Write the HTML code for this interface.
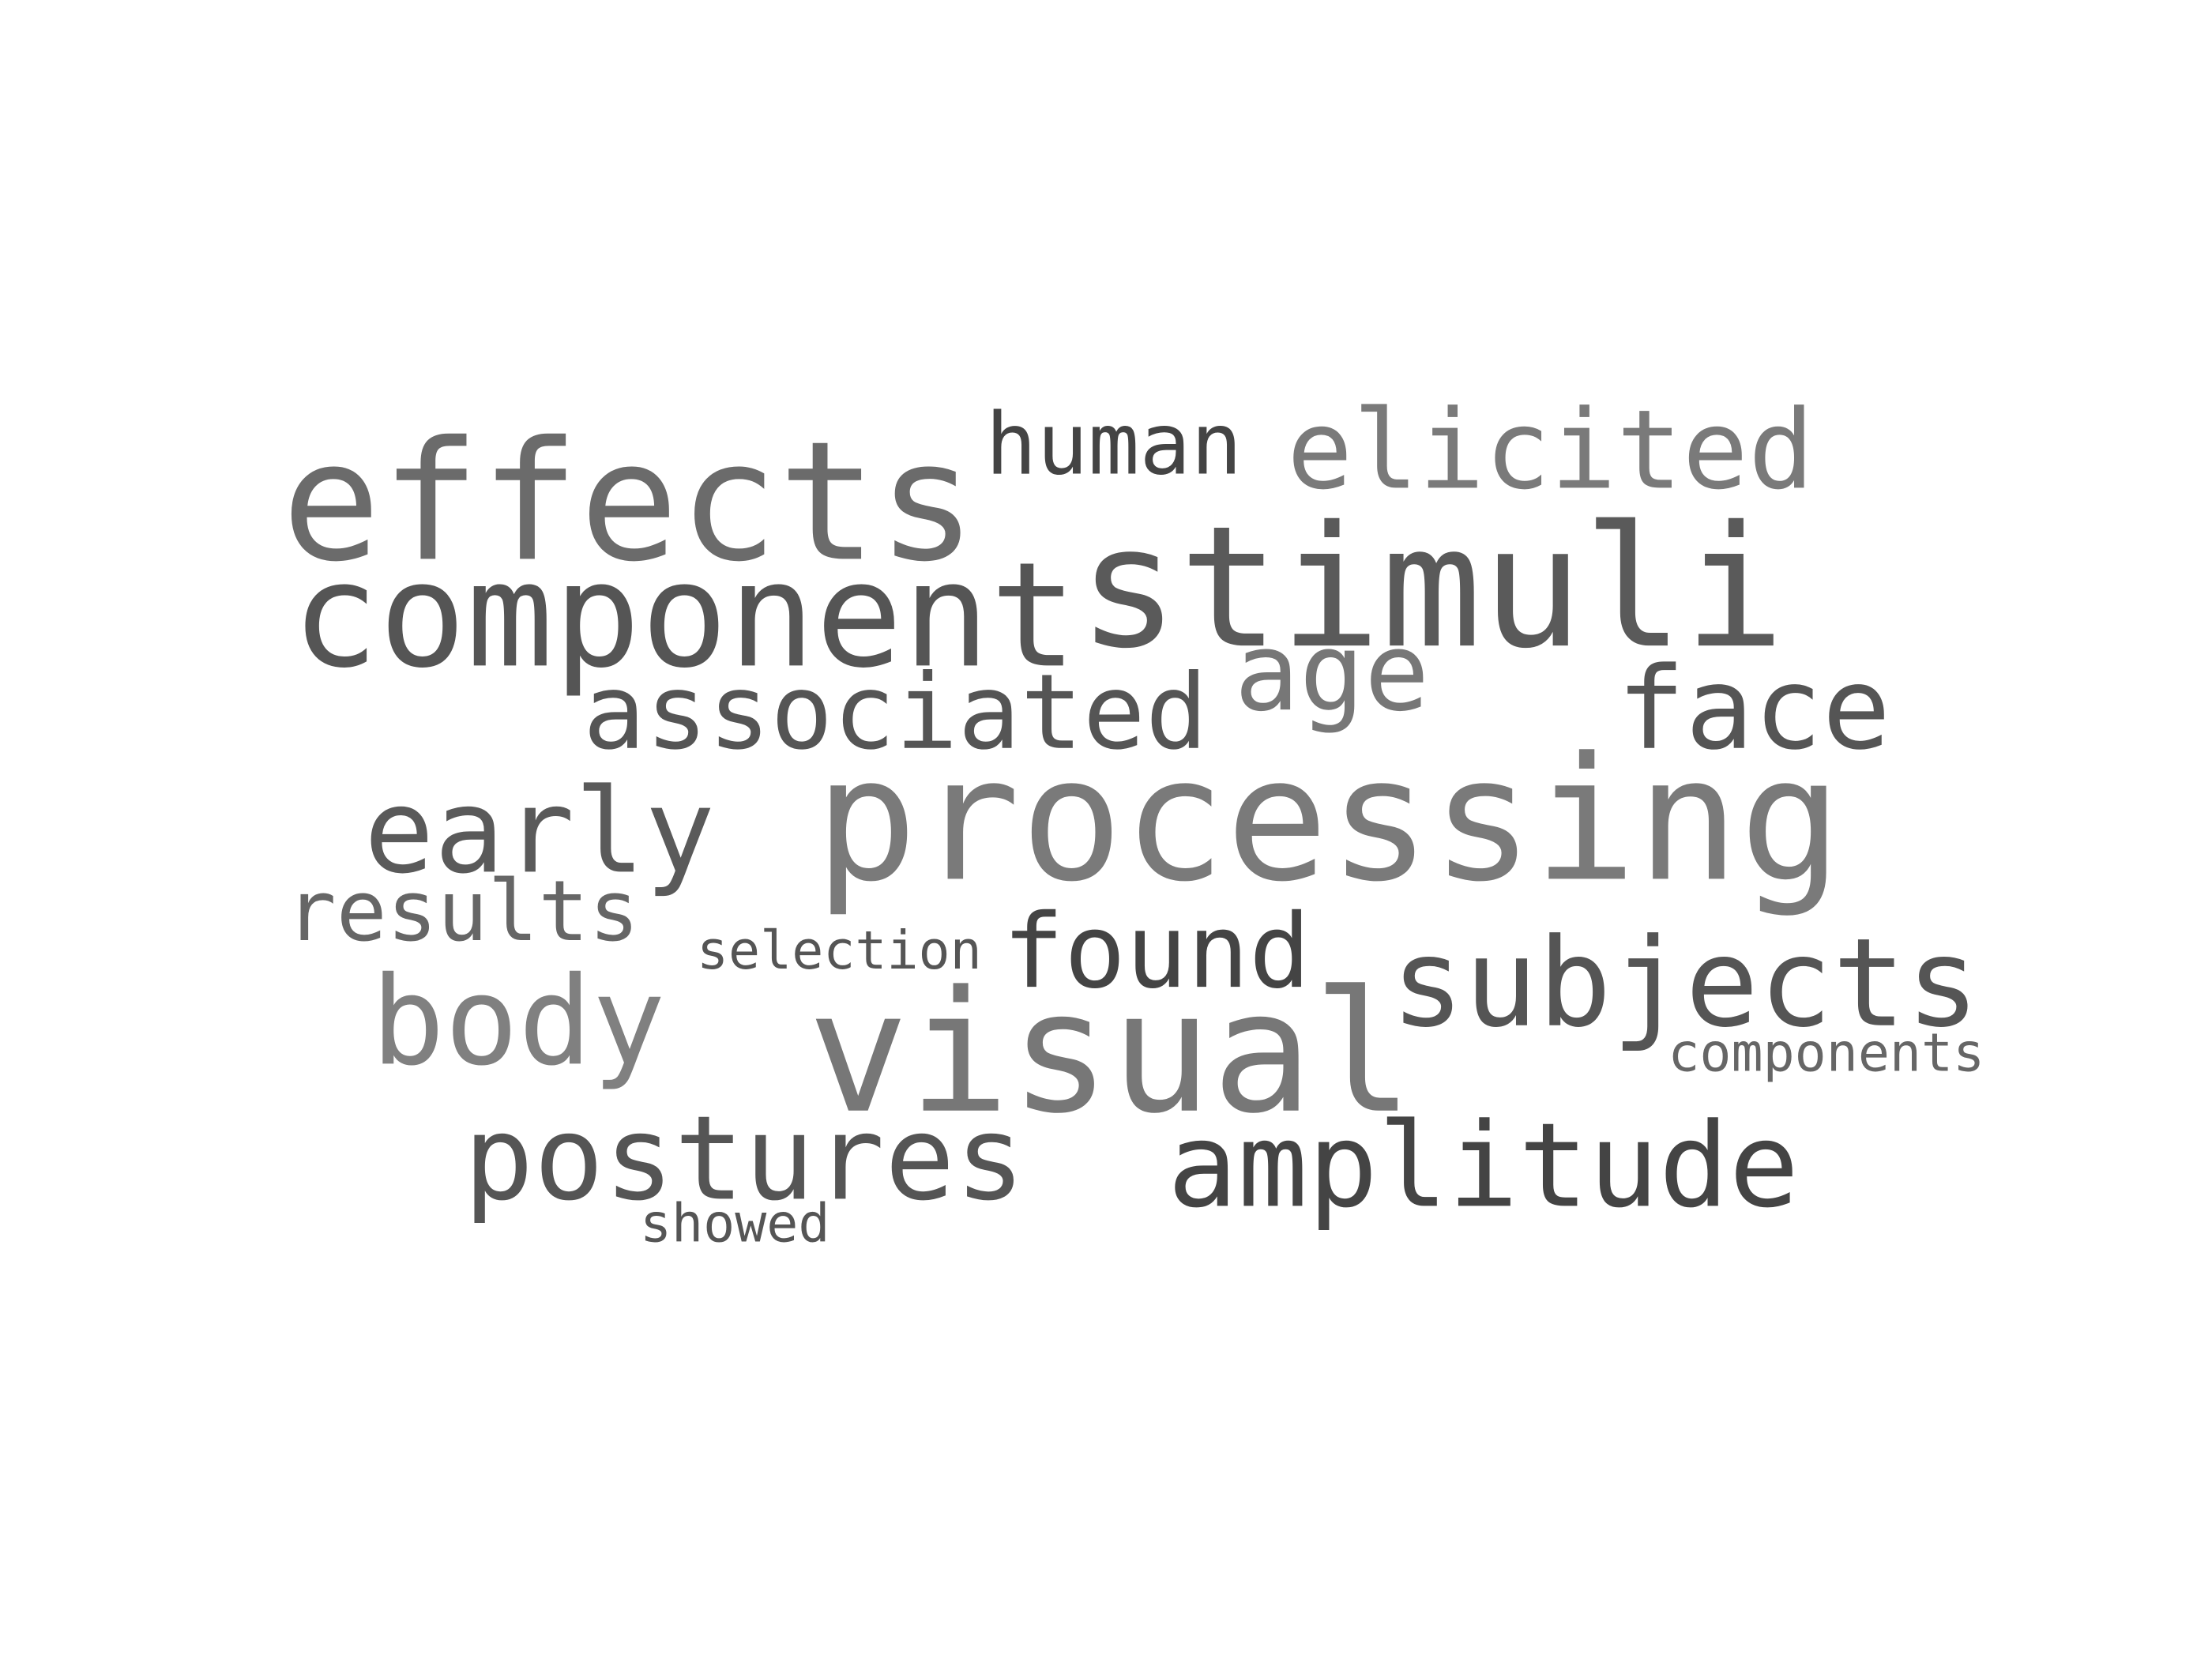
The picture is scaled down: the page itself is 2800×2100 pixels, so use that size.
<!DOCTYPE html>
<html><head><meta charset="utf-8"><style>
html,body{margin:0;padding:0;background:#fff;}
svg{display:block}
text{font-family:"DejaVu Sans Mono","Liberation Mono",monospace;}
</style></head><body>
<svg width="2800" height="2100" viewBox="0 0 1555.6 1166.7" xmlns="http://www.w3.org/2000/svg">
<rect width="100%" height="100%" fill="#fff"/>
<g transform="translate(-7,-4)">
<text x="205" y="397" font-size="116" fill="#6b6b6b">effects</text>
<text x="700" y="337" font-size="60" fill="#444">human</text>
<text x="912" y="347" font-size="77" fill="#7a7a7a">elicited</text>
<text x="212" y="472" font-size="102" fill="#555">component</text>
<text x="765" y="458" font-size="118" fill="#5a5a5a">stimuli</text>
<text x="875" y="503" font-size="76" fill="#777">age</text>
<text x="417" y="530" font-size="73" fill="#555">associated</text>
<text x="1144" y="530" font-size="80" fill="#555">face</text>
<text x="263" y="617" font-size="82" fill="#5a5a5a">early</text>
<text x="580" y="622" font-size="120" fill="#7a7a7a">processing</text>
<text x="208" y="665" font-size="59" fill="#666">results</text>
<text x="497" y="685" font-size="37" fill="#555">selection</text>
<text x="712" y="698" font-size="72" fill="#444">found</text>
<text x="985" y="725" font-size="86" fill="#555">subjects</text>
<text x="268" y="752" font-size="86" fill="#808080">body</text>
<text x="575" y="785" font-size="118" fill="#777">visual</text>
<text x="1180" y="757" font-size="37" fill="#666">components</text>
<text x="333" y="847" font-size="82" fill="#555">postures</text>
<text x="828" y="852" font-size="82" fill="#444">amplitude</text>
<text x="457" y="877" font-size="37" fill="#555">showed</text>
</g>
</svg>
</body></html>
